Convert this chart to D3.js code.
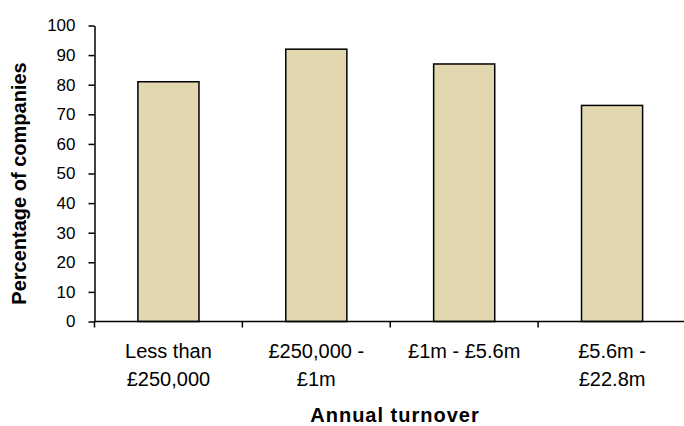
<!DOCTYPE html>
<html>
<head>
<meta charset="utf-8">
<script src="https://cdn.jsdelivr.net/npm/d3@7"></script>
<style>
  html, body { margin: 0; padding: 0; background: #fff; }
  svg { display: block; font-family: "Liberation Sans", Arial, sans-serif; }
</style>
</head>
<body>
<svg id="chart" width="684" height="426"></svg>
<script>
// Turnover bands and share of companies in each (%)
const categories = [
  ["Less than", "£250,000"],
  ["£250,000 -", "£1m"],
  ["£1m - £5.6m"],
  ["£5.6m -", "£22.8m"]
];
const values = [81, 92, 87, 73];
const yTicks = [0, 10, 20, 30, 40, 50, 60, 70, 80, 90, 100];
const yTitle = "Percentage of companies";
const xTitle = "Annual turnover";

const svg = d3.select("#chart");
const plotLeft = 94.5, plotRight = 686, plotTop = 25.5, plotBottom = 321.5;

const x = d3.scaleBand()
  .domain(d3.range(categories.length))
  .range([plotLeft, plotRight])
  .padding(0);

const y = d3.scaleLinear().domain([0, 100]).range([plotBottom, plotTop]);

const barW = x.bandwidth() * 0.413;

// bars
svg.append("g")
  .selectAll("rect")
  .data(values)
  .join("rect")
  .attr("x", (d, i) => x(i) + (x.bandwidth() - barW) / 2)
  .attr("y", d => y(d))
  .attr("width", barW)
  .attr("height", d => y(0) - y(d))
  .attr("fill", "#E3D7AF")
  .attr("stroke", "#000")
  .attr("stroke-width", 1.5);

// y axis
const yAxis = svg.append("g")
  .attr("transform", `translate(${plotLeft},0)`)
  .call(d3.axisLeft(y).tickValues(yTicks).tickSize(6).tickSizeOuter(0).tickPadding(13));
yAxis.select(".domain").attr("stroke", "#000").attr("stroke-width", 1.5);
yAxis.selectAll(".tick line").attr("stroke", "#000").attr("stroke-width", 1.5);
yAxis.selectAll(".tick text")
  .attr("fill", "#000")
  .style("font-size", "17px")
  .style("font-family", "'Liberation Sans', Arial, sans-serif");

// x axis line with tick marks on the band boundaries
const xg = svg.append("g");
xg.append("line")
  .attr("x1", plotLeft).attr("x2", 684)
  .attr("y1", plotBottom).attr("y2", plotBottom)
  .attr("stroke", "#000").attr("stroke-width", 1.5);
xg.selectAll("line.tk")
  .data(d3.range(categories.length))
  .join("line")
  .attr("class", "tk")
  .attr("x1", i => x(i)).attr("x2", i => x(i))
  .attr("y1", plotBottom).attr("y2", plotBottom + 6)
  .attr("stroke", "#000").attr("stroke-width", 1.5);

// category labels (wrapped)
const lbl = svg.append("g")
  .selectAll("text")
  .data(categories)
  .join("text")
  .attr("x", (d, i) => x(i) + x.bandwidth() / 2)
  .attr("y", 357.5)
  .attr("text-anchor", "middle")
  .style("font-size", "20px")
  .attr("fill", "#000");
lbl.selectAll("tspan")
  .data(d => d)
  .join("tspan")
  .attr("x", function () { return this.parentNode.getAttribute("x"); })
  .attr("dy", (d, j) => j === 0 ? 0 : 28)
  .text(d => d);

// axis titles
svg.append("text")
  .attr("transform", `translate(26,183.5) rotate(-90)`)
  .attr("text-anchor", "middle")
  .style("font-size", "20px")
  .style("font-weight", "bold")
  .attr("fill", "#000")
  .text(yTitle);

svg.append("text")
  .attr("x", 395)
  .attr("y", 422)
  .attr("text-anchor", "middle")
  .style("font-size", "20px")
  .style("font-weight", "bold")
  .style("letter-spacing", "1px")
  .attr("fill", "#000")
  .text(xTitle);
</script>
</body>
</html>
